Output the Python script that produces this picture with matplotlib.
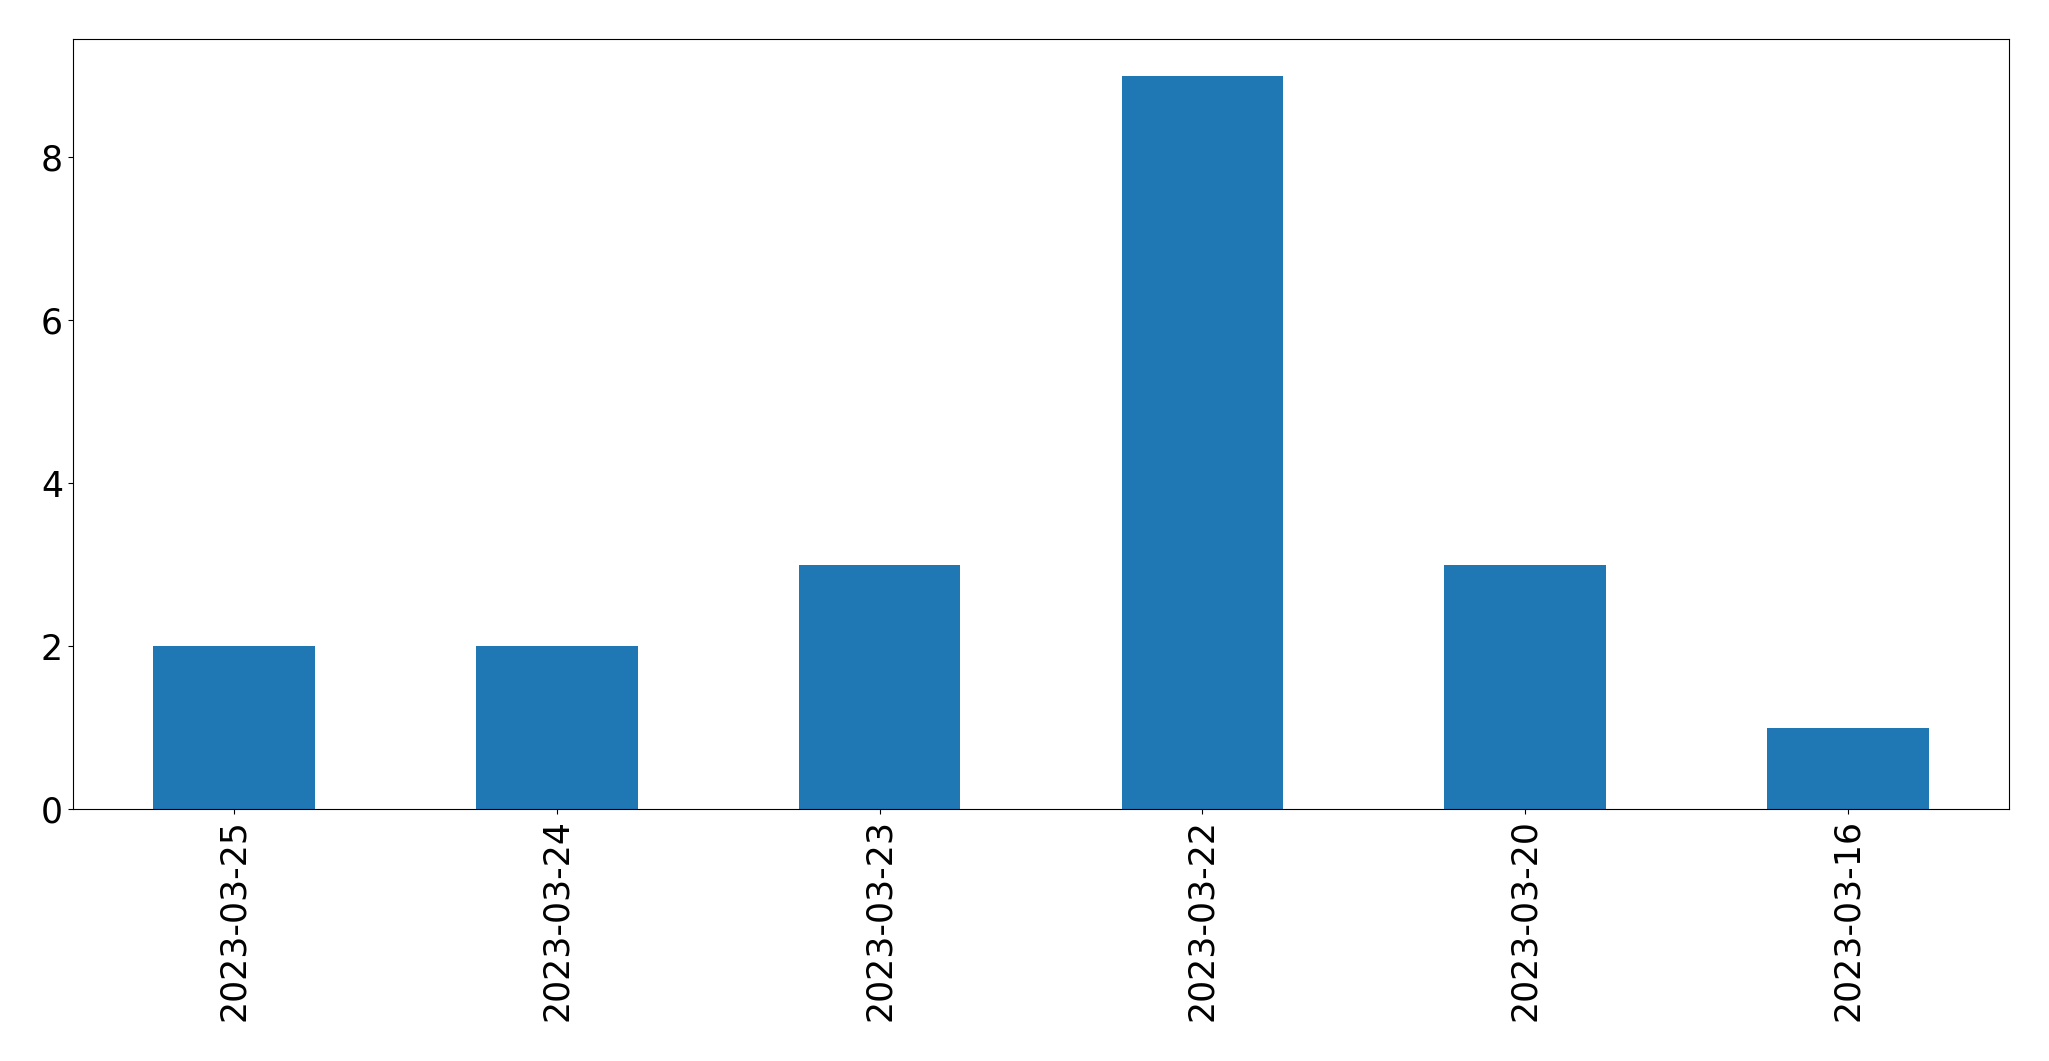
import matplotlib.pyplot as plt

# 每天的数量
dates = ['2023-03-25', '2023-03-24', '2023-03-23', '2023-03-22', '2023-03-20', '2023-03-16']
counts = [2, 2, 3, 9, 3, 1]

fig = plt.figure(figsize=(20.49, 10.61), dpi=100)
ax = fig.add_axes([0.0355, 0.2372, 0.9451, 0.7258])

x = range(len(dates))
ax.bar(x, counts, width=0.5, color='#1f77b4')
ax.set_xlim(-0.5, len(dates) - 0.5)
ax.set_xticks(list(x))
ax.set_xticklabels(dates, rotation=90)
ax.tick_params(labelsize=25)

fig.savefig('out.png', dpi=100)
